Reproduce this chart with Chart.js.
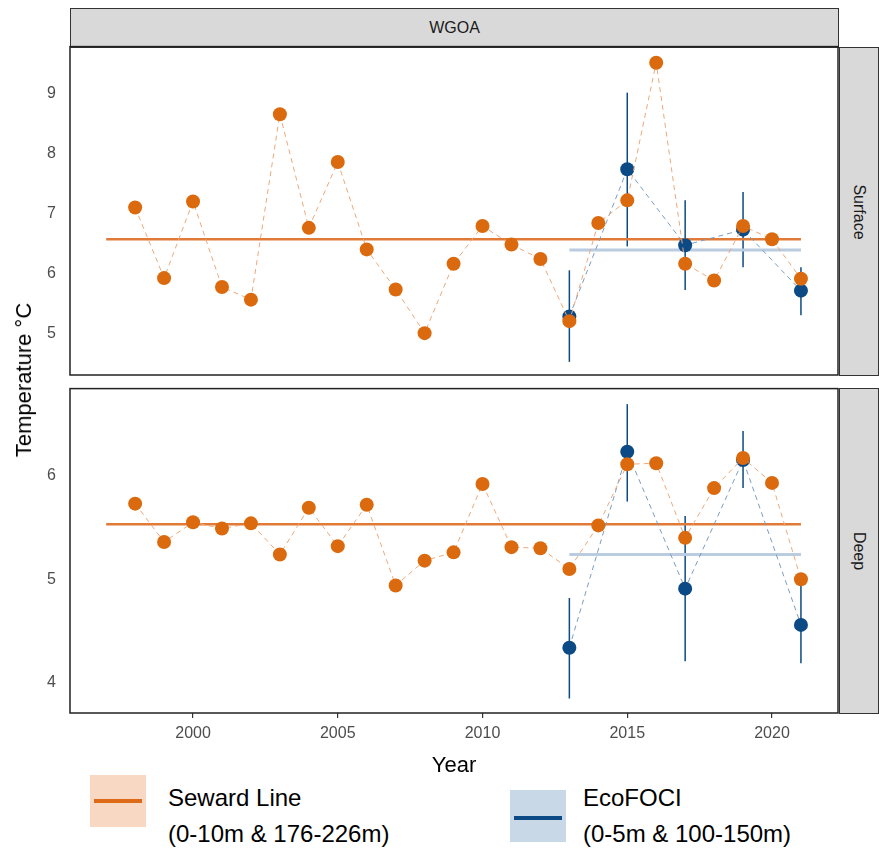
<!DOCTYPE html>
<html><head><meta charset="utf-8">
<script src="https://cdn.jsdelivr.net/npm/chart.js@4"></script>
<style>
body{margin:0;background:#fff;font-family:"Liberation Sans",Arial,sans-serif;width:879px;height:853px;position:relative;overflow:hidden}
.strip{position:absolute;background:#d9d9d9;border:1px solid #333;box-sizing:border-box;color:#1a1a1a;font-size:16px;display:flex;align-items:center;justify-content:center}
.strip span.v{transform:rotate(90deg);white-space:nowrap}
.box{position:absolute}
.box canvas{display:block}
.lbl{position:absolute;color:#000;white-space:nowrap}
</style></head><body>
<div class="strip" style="left:70px;top:8px;width:769px;height:40px">WGOA</div>
<div class="strip" style="left:839px;top:47px;width:40px;height:329px"><span class="v">Surface</span></div>
<div class="strip" style="left:839px;top:388px;width:40px;height:326px"><span class="v">Deep</span></div>
<div class="box" style="left:0;top:31px;width:845px;height:384px"><canvas id="top"></canvas></div>
<div class="box" style="left:0;top:373px;width:845px;height:380px"><canvas id="bot"></canvas></div>
<div class="lbl" style="top:380px;font-size:22px;transform:translate(-50%,-50%) rotate(-90deg);left:24px">Temperature °C</div>
<div class="lbl" style="left:454px;top:752px;font-size:22px;transform:translateX(-50%)">Year</div>
<div style="position:absolute;left:90px;top:775px;width:56px;height:52px;background:#f8d8c2"><div style="position:absolute;left:4px;right:4px;top:24px;height:4px;background:#dc6a17"></div></div>
<div class="lbl" style="left:168px;top:784px;font-size:24px">Seward Line</div>
<div class="lbl" style="left:168px;top:820px;font-size:24px">(0-10m &amp; 176-226m)</div>
<div style="position:absolute;left:510px;top:790px;width:56px;height:52px;background:#c8d8e6"><div style="position:absolute;left:4px;right:4px;top:26px;height:4px;background:#0b4a84"></div></div>
<div class="lbl" style="left:583px;top:784px;font-size:24px">EcoFOCI</div>
<div class="lbl" style="left:583px;top:820px;font-size:24px">(0-5m &amp; 100-150m)</div>
<script>
const sewardYears = [1998,1999,2000,2001,2002,2003,2004,2005,2006,2007,2008,2009,2010,2011,2012,2013,2014,2015,2016,2017,2018,2019,2020,2021];
const sewardSurface = [7.1,5.92,7.2,5.77,5.56,8.66,6.76,7.86,6.4,5.73,5.0,6.16,6.79,6.48,6.24,5.2,6.84,7.22,9.52,6.16,5.88,6.79,6.57,5.91];
const sewardDeep = [5.73,5.36,5.55,5.49,5.54,5.24,5.69,5.32,5.72,4.94,5.18,5.26,5.92,5.31,5.30,5.10,5.52,6.11,6.12,5.40,5.88,6.17,5.93,5.00];
const ecoYears = [2013,2015,2017,2019,2021];
const ecoSurface = [5.28,7.74,6.47,6.73,5.71];
const ecoSurfaceLo = [4.52,6.45,5.72,6.10,5.30];
const ecoSurfaceHi = [6.05,9.02,7.22,7.36,6.10];
const ecoDeep = [4.34,6.23,4.91,6.15,4.56];
const ecoDeepLo = [3.85,5.75,4.21,5.88,4.19];
const ecoDeepHi = [4.82,6.69,5.61,6.43,4.95];
const sewardMean = {surface:6.57, deep:5.53, from:1997, to:2021};
const ecoMean = {surface:6.39, deep:5.24, from:2013, to:2021};
const yTicksTop = [5,6,7,8,9];
const yTicksBot = [4,5,6];
const xTicks = [2000,2005,2010,2015,2020];

const ORANGE='#db6a0e', BLUE='#0b4a84';
const pts = (xs, ys) => xs.map((x,i)=>({x, y:ys[i]}));

const errPlugin = {
  id:'err',
  beforeDatasetsDraw(c, a, o){
    const {ctx, scales:{x,y}} = c;
    ctx.save(); ctx.strokeStyle=BLUE; ctx.lineWidth=1.5;
    o.lo.forEach((lo,i)=>{
      const px=x.getPixelForValue(ecoYears[i]);
      ctx.beginPath(); ctx.moveTo(px,y.getPixelForValue(lo)); ctx.lineTo(px,y.getPixelForValue(o.hi[i])); ctx.stroke();
    });
    ctx.restore();
  },
  afterDraw(c){
    const {ctx, chartArea:a} = c;
    ctx.save(); ctx.strokeStyle='#222'; ctx.lineWidth=1.5;
    ctx.strokeRect(a.left,a.top,a.right-a.left,a.bottom-a.top); ctx.restore();
  }
};

function make(id, sew, eco, lo, hi, key, ymin, ymax, ticks, showX){
  return new Chart(document.getElementById(id), {
    type:'scatter',
    data:{datasets:[
      {data:pts([sewardMean.from,sewardMean.to],[sewardMean[key],sewardMean[key]]), showLine:true, borderColor:'#e07a36', borderWidth:2.5, pointRadius:0, order:5},
      {data:pts([ecoMean.from,ecoMean.to],[ecoMean[key],ecoMean[key]]), showLine:true, borderColor:'#b9cce0', borderWidth:3, pointRadius:0, order:4},
      {data:pts(ecoYears,eco), showLine:true, borderColor:'#7b9cc2', borderDash:[5,4], borderWidth:1, pointRadius:7, pointBackgroundColor:BLUE, pointBorderWidth:0, order:2},
      {data:pts(sewardYears,sew), showLine:true, borderColor:'#efa77a', borderDash:[5,4], borderWidth:1, pointRadius:7, pointBackgroundColor:ORANGE, pointBorderWidth:0, order:1}
    ]},
    options:{
      responsive:true, maintainAspectRatio:false, animation:false,
      layout:{padding:{top:1,right:2,left:0,bottom:0}},
      plugins:{legend:{display:false}, tooltip:{enabled:false}, err:{lo, hi}},
      scales:{
        x:{type:'linear', min:1995.75, max:2022.28, display:showX,
          grid:{display:true, drawOnChartArea:false, drawTicks:true, tickLength:5, color:'#333', lineWidth:1.2},
          border:{display:false},
          afterBuildTicks:s=>{s.ticks=xTicks.map(v=>({value:v}));},
          afterFit:s=>{s.height=40;},
          ticks:{color:'#4d4d4d', font:{size:16,family:'Liberation Sans'}, padding:6, callback:v=>String(v)}},
        y:{min:ymin, max:ymax, grid:{display:false}, border:{display:false},
          afterBuildTicks:s=>{s.ticks=ticks.map(v=>({value:v}));},
          afterFit:s=>{s.width=70;},
          ticks:{color:'#4d4d4d', font:{size:16,family:'Liberation Sans'}, padding:6}}
      }
    },
    plugins:[errPlugin]
  });
}
make('top', sewardSurface, ecoSurface, ecoSurfaceLo, ecoSurfaceHi, 'surface', 4.30, 9.79, yTicksTop, false);
make('bot', sewardDeep, ecoDeep, ecoDeepLo, ecoDeepHi, 'deep', 3.71, 6.84, yTicksBot, true);
</script></body></html>
